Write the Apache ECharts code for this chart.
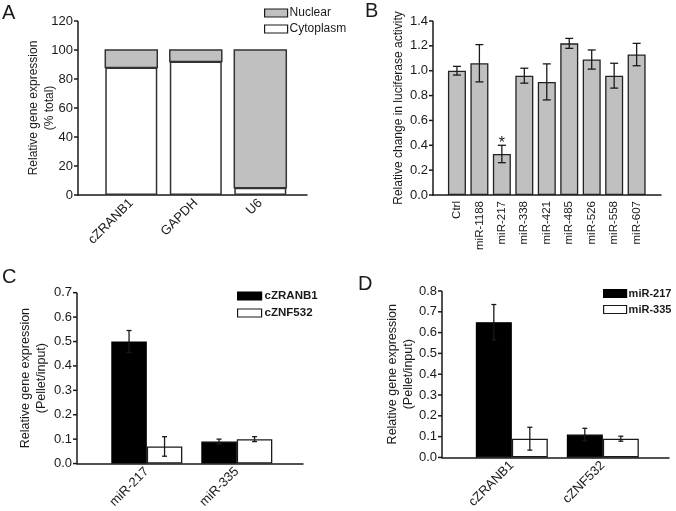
<!DOCTYPE html>
<html><head><meta charset="utf-8">
<script src="https://cdn.jsdelivr.net/npm/echarts@6/dist/echarts.min.js"></script>
<style>html,body{margin:0;padding:0;background:#fff}#c{width:676px;height:511px}</style>
</head><body><div id="c"></div>
<script>
// ---------- Panel A ----------
const aCategories = ['cZRANB1', 'GAPDH', 'U6'];
const aCytoplasm = [88, 92, 5];
const aNuclear = [12, 8, 95];
const aYMax = 120, aYStep = 20;

// ---------- Panel B ----------
const bCategories = ['Ctrl', 'miR-1188', 'miR-217', 'miR-338', 'miR-421', 'miR-485', 'miR-526', 'miR-558', 'miR-607'];
const bMeans  = [1.00, 1.06, 0.33, 0.96, 0.91, 1.22, 1.09, 0.96, 1.13];
const bErrors = [0.035, 0.15, 0.07, 0.06, 0.145, 0.04, 0.077, 0.10, 0.09];
const bMarks  = ['', '', '*', '', '', '', '', '', ''];
const bYMax = 1.4, bYStep = 0.2;

// ---------- Panel C ----------
const cCategories = ['miR-217', 'miR-335'];
const cZRANB1 = [0.50, 0.09];
const cZRANB1Err = [0.045, 0.01];
const cZNF532 = [0.07, 0.10];
const cZNF532Err = [0.04, 0.01];
const cYMax = 0.7, cYStep = 0.1;

// ---------- Panel D ----------
const dCategories = ['cZRANB1', 'cZNF532'];
const dMiR217 = [0.65, 0.11];
const dMiR217Err = [0.085, 0.03];
const dMiR335 = [0.09, 0.09];
const dMiR335Err = [0.055, 0.012];
const dYMax = 0.8, dYStep = 0.1;

const FONT = "'Liberation Sans', Arial, Helvetica, sans-serif";
const INK = '#1a1a1a';
const GRAY = '#c0c0c0';

// Layout: x axis spans [PAD, span + PAD] in category-step units; first category sits at `lead`.
const PAD = -0.02;
const LAYOUT = {
  A: { lead: 0.806, span: 3.550 },
  B: { lead: 1.046, span: 10.151 },
  C: { lead: 0.7556, span: 2.5111 },
  D: { lead: 0.7473, span: 2.4945 }
};
const pos = (cats, L) => cats.map((_, i) => i + L.lead);
const pairs = (vals, L) => vals.map((v, i) => [i + L.lead, v]);
const errData = (means, errs, L) => means.map((m, i) => [i + L.lead, m, errs[i]]);
const tickValues = (max, step) => Array.from({ length: Math.round(max / step) + 1 }, (_, k) => +(k * step).toFixed(4));

function errRender(offset, cap, marks) {
  return function (params, api) {
    const x0 = api.value(0), m = api.value(1), e = api.value(2);
    const hi = api.coord([x0, m + e]);
    const lo = api.coord([x0, m - e]);
    const x = hi[0] + offset;
    const st = { stroke: INK, lineWidth: 1.3 };
    const ch = [
      { type: 'line', shape: { x1: x, y1: hi[1], x2: x, y2: lo[1] }, style: st },
      { type: 'line', shape: { x1: x - cap, y1: hi[1], x2: x + cap, y2: hi[1] }, style: st },
      { type: 'line', shape: { x1: x - cap, y1: lo[1], x2: x + cap, y2: lo[1] }, style: st }
    ];
    if (marks && marks[params.dataIndex]) {
      ch.push({ type: 'text', style: { text: marks[params.dataIndex], x: x, y: hi[1] + 6, align: 'center', verticalAlign: 'bottom', font: '16px ' + FONT, fill: INK } });
    }
    return { type: 'group', children: ch };
  };
}
// stacked segment: [x, base, value]
function stackRender(width, style) {
  return function (params, api) {
    const x0 = api.value(0), base = api.value(1), v = api.value(2);
    const p0 = api.coord([x0, base]);
    const p1 = api.coord([x0, base + v]);
    return { type: 'rect', shape: { x: p0[0] - width / 2, y: p1[1], width: width, height: p0[1] - p1[1] }, style: style };
  };
}

function valueY(gridIndex, max, step, name, nameGap, nameSize, fmt) {
  return {
    type: 'value', gridIndex, min: 0, max, interval: step,
    name, nameLocation: 'middle', nameRotate: 90, nameGap, nameMoveOverlap: false,
    nameTextStyle: { fontFamily: FONT, fontSize: nameSize, color: INK, lineHeight: nameSize + 4 },
    axisLine: { show: false, onZero: false },
    axisTick: { show: false },
    axisLabel: { fontFamily: FONT, fontSize: 13, color: INK, margin: 5, formatter: fmt },
    splitLine: { show: false }
  };
}
// value-type x axis with category names at their positions
function catX(gridIndex, cats, L, rotate, size) {
  const p = pos(cats, L);
  return {
    type: 'value', gridIndex, min: PAD, max: L.span + PAD,
    axisLine: { show: true, onZero: false, lineStyle: { color: INK, width: 1.5 } },
    axisTick: { show: false },
    splitLine: { show: false },
    axisLabel: {
      customValues: p, rotate, fontFamily: FONT, fontSize: size, color: INK, margin: 6,
      showMinLabel: true, showMaxLabel: true, hideOverlap: false,
      formatter: v => { const k = Math.round(v - L.lead); return cats[k] !== undefined ? cats[k] : ''; }
    }
  };
}

const grids = [
  { left: 78, top: 21, width: 229, height: 174 },        // A
  { left: 433, top: 21, width: 228, height: 174 },       // B
  { left: 77, top: 292.7, width: 226, height: 173.3 },   // C
  { left: 442, top: 291, width: 227, height: 174.7 }     // D
];

const letterStyle = { fontFamily: FONT, fontSize: 20, fontWeight: 'normal', color: INK };
const legendBase = { orient: 'vertical', padding: 0, itemWidth: 23, itemHeight: 8, selectedMode: false };

const option = {
  animation: false,
  backgroundColor: '#fff',
  textStyle: { fontFamily: FONT },
  title: [
    { text: 'A', left: 2, top: 3, padding: 0, textStyle: letterStyle },
    { text: 'B', left: 365, top: 1, padding: 0, textStyle: letterStyle },
    { text: 'C', left: 2, top: 267, padding: 0, textStyle: letterStyle },
    { text: 'D', left: 358, top: 274, padding: 0, textStyle: letterStyle }
  ],
  legend: [
    Object.assign({}, legendBase, { left: 264, top: 7, itemGap: 4,
      textStyle: { fontFamily: FONT, fontSize: 12, color: INK, padding: [0, 0, 0, -3] },
      data: [
        { name: 'Nuclear', icon: 'rect', itemStyle: { color: GRAY, borderColor: INK, borderWidth: 1.2 } },
        { name: 'Cytoplasm', icon: 'rect', itemStyle: { color: '#fff', borderColor: INK, borderWidth: 1.2 } }
      ] }),
    Object.assign({}, legendBase, { left: 237, top: 290, itemWidth: 24, itemGap: 5,
      textStyle: { fontFamily: FONT, fontSize: 11.5, fontWeight: 'bold', color: INK, padding: [0, 0, 0, -2] },
      data: [
        { name: 'cZRANB1', icon: 'rect', itemStyle: { color: '#000', borderColor: '#000', borderWidth: 1.2 } },
        { name: 'cZNF532', icon: 'rect', itemStyle: { color: '#fff', borderColor: INK, borderWidth: 1.2 } }
      ] }),
    Object.assign({}, legendBase, { left: 603, top: 288, itemGap: 5,
      textStyle: { fontFamily: FONT, fontSize: 11, fontWeight: 'bold', color: INK, padding: [0, 0, 0, -3] },
      data: [
        { name: 'miR-217', icon: 'rect', itemStyle: { color: '#000', borderColor: '#000', borderWidth: 1.2 } },
        { name: 'miR-335', icon: 'rect', itemStyle: { color: '#fff', borderColor: INK, borderWidth: 1.2 } }
      ] })
  ],
  grid: grids,
  xAxis: [
    catX(0, aCategories, LAYOUT.A, 45, 13),
    catX(1, bCategories, LAYOUT.B, 90, 11.5),
    catX(2, cCategories, LAYOUT.C, 45, 13),
    catX(3, dCategories, LAYOUT.D, 45, 13)
  ],
  yAxis: [
    valueY(0, aYMax, aYStep, 'Relative gene expression\n(% total)', 20, 12),
    valueY(1, bYMax, bYStep, 'Relative change in luciferase activity', 26, 12, v => v.toFixed(1)),
    valueY(2, cYMax, cYStep, 'Relative gene expression\n(Pellet/input)', 27, 12.5, v => v.toFixed(1)),
    valueY(3, dYMax, dYStep, 'Relative gene expression\n(Pellet/input)', 25, 12.5, v => v.toFixed(1))
  ],
  series: [
    // A
    { name: 'Cytoplasm', type: 'bar', xAxisIndex: 0, yAxisIndex: 0, barWidth: 52, data: pairs(aCytoplasm, LAYOUT.A),
      itemStyle: { color: '#fff', borderColor: '#333', borderWidth: 1.5 } },
    { name: 'Nuclear', type: 'custom', xAxisIndex: 0, yAxisIndex: 0,
      data: aCytoplasm.map((c, i) => [i + LAYOUT.A.lead, c, aNuclear[i]]), encode: { x: 0, y: [1, 2] },
      renderItem: stackRender(52, { fill: GRAY, stroke: '#333', lineWidth: 1.5 }) },
    // B
    { name: 'luciferase', type: 'bar', xAxisIndex: 1, yAxisIndex: 1, barWidth: 18, data: pairs(bMeans, LAYOUT.B),
      itemStyle: { color: GRAY, borderColor: '#222', borderWidth: 1.3 } },
    { type: 'custom', xAxisIndex: 1, yAxisIndex: 1, data: errData(bMeans, bErrors, LAYOUT.B), z: 5,
      encode: { x: 0, y: 1 }, renderItem: errRender(0, 4, bMarks) },
    // C
    { name: 'cZRANB1', type: 'bar', xAxisIndex: 2, yAxisIndex: 2, barWidth: 35.5, barGap: '0%', data: pairs(cZRANB1, LAYOUT.C),
      itemStyle: { color: '#000', borderColor: '#000', borderWidth: 1.2 } },
    { name: 'cZNF532', type: 'bar', xAxisIndex: 2, yAxisIndex: 2, barWidth: 35.5, barGap: '0%', data: pairs(cZNF532, LAYOUT.C),
      itemStyle: { color: '#fff', borderColor: INK, borderWidth: 1.3 } },
    { type: 'custom', xAxisIndex: 2, yAxisIndex: 2, data: errData(cZRANB1, cZRANB1Err, LAYOUT.C), z: 5,
      encode: { x: 0, y: 1 }, renderItem: errRender(-17.75, 2.5) },
    { type: 'custom', xAxisIndex: 2, yAxisIndex: 2, data: errData(cZNF532, cZNF532Err, LAYOUT.C), z: 5,
      encode: { x: 0, y: 1 }, renderItem: errRender(17.75, 2.5) },
    // D
    { name: 'miR-217', type: 'bar', xAxisIndex: 3, yAxisIndex: 3, barWidth: 36, barGap: '0%', data: pairs(dMiR217, LAYOUT.D),
      itemStyle: { color: '#000', borderColor: '#000', borderWidth: 1.2 } },
    { name: 'miR-335', type: 'bar', xAxisIndex: 3, yAxisIndex: 3, barWidth: 36, barGap: '0%', data: pairs(dMiR335, LAYOUT.D),
      itemStyle: { color: '#fff', borderColor: INK, borderWidth: 1.3 } },
    { type: 'custom', xAxisIndex: 3, yAxisIndex: 3, data: errData(dMiR217, dMiR217Err, LAYOUT.D), z: 5,
      encode: { x: 0, y: 1 }, renderItem: errRender(-18, 2.5) },
    { type: 'custom', xAxisIndex: 3, yAxisIndex: 3, data: errData(dMiR335, dMiR335Err, LAYOUT.D), z: 5,
      encode: { x: 0, y: 1 }, renderItem: errRender(18, 2.5) }
  ]
};

const chart = echarts.init(document.getElementById('c'), null, { renderer: 'canvas' });
chart.setOption(option);

// Y axis lines and ticks, placed through each grid's own scales.
const yAxesSpec = [[0, aYMax, aYStep], [1, bYMax, bYStep], [2, cYMax, cYStep], [3, dYMax, dYStep]];
const axisGraphics = [];
const lineStyle = { stroke: INK, lineWidth: 1.5 };
yAxesSpec.forEach(([g, max, step]) => {
  const finder = { xAxisIndex: g, yAxisIndex: g };
  const b = chart.convertToPixel(finder, [PAD, 0]);
  const t = chart.convertToPixel(finder, [PAD, max]);
  if (!b || !t) return;
  axisGraphics.push({ type: 'line', z: 100, silent: true,
    shape: { x1: b[0], y1: b[1] + 0.75, x2: t[0], y2: t[1] }, style: lineStyle });
  tickValues(max, step).forEach(v => {
    const p = chart.convertToPixel(finder, [PAD, v]);
    axisGraphics.push({ type: 'line', z: 100, silent: true,
      shape: { x1: p[0] - 4, y1: p[1], x2: p[0], y2: p[1] }, style: lineStyle });
  });
});
chart.setOption({ graphic: { elements: axisGraphics } });
</script>
</body></html>
